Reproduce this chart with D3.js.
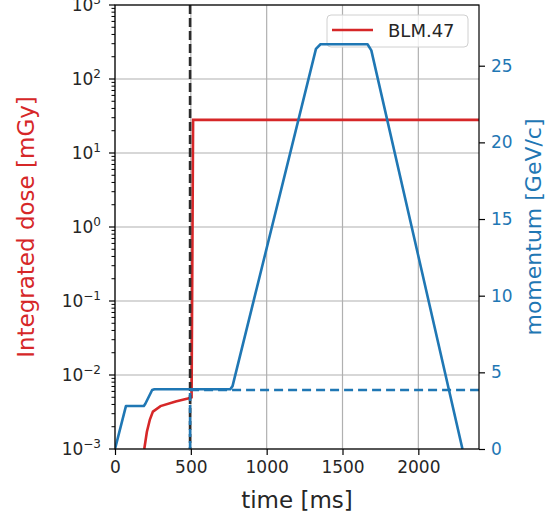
<!DOCTYPE html>
<html>
<head>
<meta charset="utf-8">
<script src="https://cdn.jsdelivr.net/npm/d3@7"></script>
<style>
    body { margin: 0; background: #fff; }
    svg { display: block; font-family: "DejaVu Sans", sans-serif; }
</style>
</head>
<body>
<div class="svg-container"></div>
<script>
/********
 * DATA *
 ********/

// integrated dose of BLM.47 [mGy] vs time [ms]
let doseTime  = [193, 210, 230, 250, 300, 400, 480, 505, 515, 2400];
let doseValue = [0.001, 0.0017, 0.0025, 0.0032, 0.0038, 0.0044, 0.0048, 0.005, 28, 28];

// beam momentum [GeV/c] vs time [ms]
let momTime  = [0, 72, 190, 200, 245, 260, 760, 775, 1325, 1355, 1665, 1690, 2291];
let momValue = [0, 2.8, 2.8, 2.95, 3.85, 3.9, 3.9, 4.1, 26.1, 26.4, 26.4, 26.0, 0];

// marker: time of the loss and the momentum at that time
let markerTime = 495;
let markerMomentum = 3.85;

let xTicks = [0, 500, 1000, 1500, 2000];
let doseExponents = [-3, -2, -1, 0, 1, 2, 3];
let momTicks = [0, 5, 10, 15, 20, 25];

let seriesName = "BLM.47";

/**********
 * LAYOUT *
 **********/

let width = 546;
let height = 516;
let plotLeft = 115, plotRight = 479, plotTop = 5, plotBottom = 449;

let RED = "#d62728";
let BLUE = "#1f77b4";
let GRID = "#b0b0b0";
let TICK_FONT = 17;
let LINE_W = 2.6;

let svg = d3.select(".svg-container")
    .append("svg")
    .attr("width", width)
    .attr("height", height);

let x = d3.scaleLinear().domain([0, 2400]).range([plotLeft, plotRight]);
let yDose = d3.scaleLog().domain([1e-3, 1e3]).range([plotBottom, plotTop]);
let yMom = d3.scaleLinear().domain([0, 28.96]).range([plotBottom, plotTop]);

/********
 * GRID *
 ********/

let grid = svg.append("g");

grid.selectAll("line.vx")
    .data(xTicks)
    .enter()
    .append("line")
    .attr("x1", d => x(d)).attr("x2", d => x(d))
    .attr("y1", plotTop).attr("y2", plotBottom)
    .attr("stroke", GRID).attr("stroke-width", 1.2);

grid.selectAll("line.hy")
    .data(doseExponents)
    .enter()
    .append("line")
    .attr("x1", plotLeft).attr("x2", plotRight)
    .attr("y1", d => yDose(10 ** d)).attr("y2", d => yDose(10 ** d))
    .attr("stroke", GRID).attr("stroke-width", 1.2);

/*********
 * LINES *
 *********/

svg.append("clipPath").attr("id", "plot-clip")
    .append("rect")
    .attr("x", plotLeft).attr("y", plotTop)
    .attr("width", plotRight - plotLeft).attr("height", plotBottom - plotTop);

let plot = svg.append("g").attr("clip-path", "url(#plot-clip)");

let doseLine = d3.line()
    .x((d, i) => x(doseTime[i]))
    .y(d => yDose(d));

plot.append("path")
    .datum(doseValue)
    .attr("d", doseLine)
    .attr("fill", "none")
    .attr("stroke", RED)
    .attr("stroke-width", LINE_W);

// vertical marker at the loss time
plot.append("line")
    .attr("x1", x(markerTime)).attr("x2", x(markerTime))
    .attr("y1", plotTop).attr("y2", plotBottom)
    .attr("stroke", "#2b2b2b")
    .attr("stroke-width", LINE_W)
    .attr("stroke-dasharray", "9,4");

/**********
 * LEGEND *
 **********/

let legend = svg.append("g");

legend.append("rect")
    .attr("x", 327).attr("y", 15)
    .attr("width", 141).attr("height", 32)
    .attr("rx", 4)
    .attr("fill", "#fff").attr("fill-opacity", 0.8)
    .attr("stroke", "#d0d0d0");

legend.append("line")
    .attr("x1", 332).attr("x2", 373)
    .attr("y1", 30).attr("y2", 30)
    .attr("stroke", RED).attr("stroke-width", LINE_W);

legend.append("text")
    .attr("x", 388).attr("y", 37)
    .attr("font-size", 18)
    .attr("fill", "#262626")
    .text(seriesName);

/*******************
 * MOMENTUM (TWIN) *
 *******************/

let plot2 = svg.append("g").attr("clip-path", "url(#plot-clip)");

let momLine = d3.line()
    .x((d, i) => x(momTime[i]))
    .y(d => yMom(d));

plot2.append("path")
    .datum(momValue)
    .attr("d", momLine)
    .attr("fill", "none")
    .attr("stroke", BLUE)
    .attr("stroke-width", LINE_W)
    .attr("stroke-linejoin", "round");

plot2.append("line")
    .attr("x1", x(markerTime)).attr("x2", x(2400))
    .attr("y1", yMom(markerMomentum)).attr("y2", yMom(markerMomentum))
    .attr("stroke", BLUE)
    .attr("stroke-width", LINE_W)
    .attr("stroke-dasharray", "9,5");

plot2.append("line")
    .attr("x1", x(markerTime)).attr("x2", x(markerTime))
    .attr("y1", yMom(0)).attr("y2", yMom(markerMomentum))
    .attr("stroke", BLUE)
    .attr("stroke-width", LINE_W)
    .attr("stroke-dasharray", "8,4");

/********
 * AXES *
 ********/

// x axis
let xAxis = svg.append("g")
    .attr("transform", "translate(0," + plotBottom + ")")
    .call(d3.axisBottom(x).tickValues(xTicks).tickSize(6).tickPadding(6).tickFormat(d3.format("d")));

xAxis.select(".domain").remove();
xAxis.selectAll("text").attr("font-size", TICK_FONT).attr("fill", "#262626").attr("font-family", "DejaVu Sans");
xAxis.selectAll("line").attr("stroke", "#000").attr("stroke-width", 1.2);

// left log axis, majors built by hand for the superscripts
let yAxis = svg.append("g");

let minors = [];
doseExponents.slice(0, -1).forEach(e => {
    for (let k = 2; k < 10; k++) minors.push(k * 10 ** e);
});

yAxis.selectAll("line.minor")
    .data(minors)
    .enter()
    .append("line")
    .attr("x1", plotLeft - 3.5).attr("x2", plotLeft)
    .attr("y1", d => yDose(d)).attr("y2", d => yDose(d))
    .attr("stroke", "#000").attr("stroke-width", 1);

yAxis.selectAll("line.major")
    .data(doseExponents)
    .enter()
    .append("line")
    .attr("x1", plotLeft - 6).attr("x2", plotLeft)
    .attr("y1", d => yDose(10 ** d)).attr("y2", d => yDose(10 ** d))
    .attr("stroke", "#000").attr("stroke-width", 1.2);

let yLabels = yAxis.selectAll("text")
    .data(doseExponents)
    .enter()
    .append("text")
    .attr("x", plotLeft - 14)
    .attr("y", d => yDose(10 ** d) + 6)
    .attr("text-anchor", "end")
    .attr("font-size", TICK_FONT)
    .attr("fill", "#262626");

yLabels.append("tspan").text("10");
yLabels.append("tspan")
    .attr("dy", -7)
    .attr("font-size", 12)
    .text(d => String(d).replace("-", "\u2212"));

// right momentum axis
let rAxis = svg.append("g")
    .attr("transform", "translate(" + plotRight + ",0)")
    .call(d3.axisRight(yMom).tickValues(momTicks).tickSize(6).tickPadding(6));

rAxis.select(".domain").remove();
rAxis.selectAll("line").attr("stroke", "#000").attr("stroke-width", 1.2);
rAxis.selectAll("text").attr("font-size", TICK_FONT).attr("fill", BLUE).attr("font-family", "DejaVu Sans");

// spines
svg.append("rect")
    .attr("x", plotLeft).attr("y", plotTop)
    .attr("width", plotRight - plotLeft).attr("height", plotBottom - plotTop)
    .attr("fill", "none")
    .attr("stroke", "#000")
    .attr("stroke-width", 1.2);

/**********
 * LABELS *
 **********/

svg.append("text")
    .attr("x", (plotLeft + plotRight) / 2).attr("y", 508)
    .attr("text-anchor", "middle")
    .attr("font-size", 23)
    .attr("fill", "#262626")
    .text("time [ms]");

svg.append("text")
    .attr("transform", "translate(34," + (plotTop + plotBottom) / 2 + ") rotate(-90)")
    .attr("text-anchor", "middle")
    .attr("font-size", 23)
    .attr("fill", RED)
    .text("Integrated dose [mGy]");

svg.append("text")
    .attr("transform", "translate(541," + (plotTop + plotBottom) / 2 + ") rotate(-90)")
    .attr("text-anchor", "middle")
    .attr("font-size", 22)
    .attr("fill", BLUE)
    .text("momentum [GeV/c]");
</script>
</body>
</html>
